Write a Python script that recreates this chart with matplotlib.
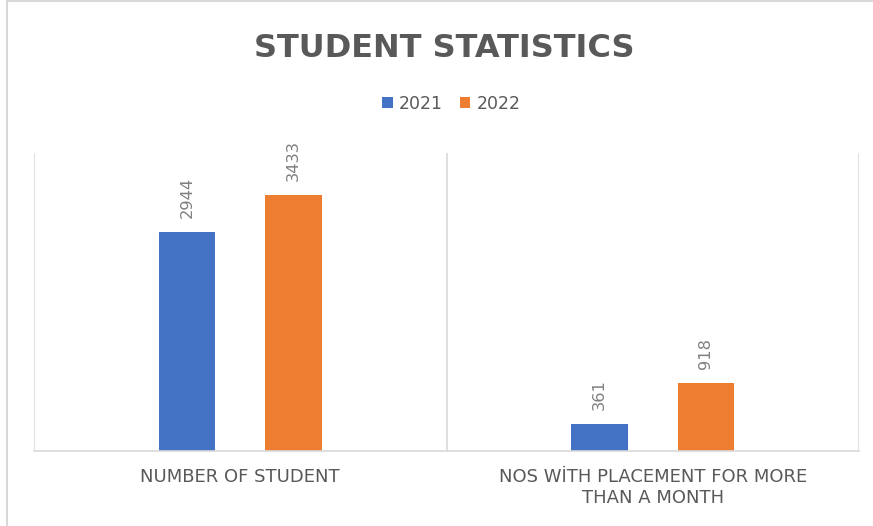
import matplotlib
matplotlib.use("Agg")
import matplotlib.pyplot as plt
from matplotlib.patches import Rectangle
import numpy as np

# chart data
categories = ["NUMBER OF STUDENT", "NOS WİTH PLACEMENT FOR MORE\nTHAN A MONTH"]
years = ["2021", "2022"]
values_2021 = [2944, 361]
values_2022 = [3433, 918]

colors = ["#4472C4", "#ED7D31"]
text_col = "#595959"
grid_col = "#D9D9D9"

plt.rcParams["font.family"] = ["DejaVu Sans"]

fig = plt.figure(figsize=(8.73, 5.26), dpi=100)
ax = fig.add_axes([34 / 873, 75 / 526, 825 / 873, 298 / 526])

x = np.arange(len(categories))
width = 0.136
offset = 0.129

bars1 = ax.bar(x - offset, values_2021, width, color=colors[0], label=years[0])
bars2 = ax.bar(x + offset, values_2022, width, color=colors[1], label=years[1])

# data labels, rotated like the original
for bars in (bars1, bars2):
    for b in bars:
        ax.annotate(str(int(b.get_height())),
                    xy=(b.get_x() + b.get_width() / 2, b.get_height()),
                    xytext=(0, 10), textcoords="offset points",
                    rotation=90, ha="center", va="bottom",
                    fontsize=11.7, color="#808080")

ax.set_xlim(-0.5, len(categories) - 0.5)
ax.set_ylim(0, 4000)
ax.set_yticks([])
ax.set_xticks(x)
ax.set_xticklabels(categories, fontsize=13, color=text_col, linespacing=1.25)
ax.tick_params(axis="x", length=0, pad=12)

for s in ("top", "left", "right"):
    ax.spines[s].set_visible(False)
ax.spines["bottom"].set_color(grid_col)
ax.spines["bottom"].set_linewidth(1.2)

# vertical category separators
for xv in np.arange(-0.5, len(categories), 1.0):
    ax.axvline(xv, color=grid_col, linewidth=1.2, zorder=0)

# title and legend
fig.text(0.509, 1 - 57 / 526, "STUDENT STATISTICS", ha="center", va="baseline",
         fontsize=23, fontweight="bold", color=text_col)

leg = fig.legend(handles=[bars1, bars2], labels=years, loc="center",
                 bbox_to_anchor=(0.517, 1 - 104 / 526), ncol=2, frameon=False,
                 fontsize=12.5, handlelength=0.6, handleheight=0.6,
                 handletextpad=0.35, columnspacing=1.0)
for t in leg.get_texts():
    t.set_color(text_col)

# chart area border (cut off at right and bottom in the original)
fig.patches.append(Rectangle((7 / 873, -0.1), 1.2, 1.1 - 1 / 526,
                             transform=fig.transFigure, fill=False,
                             edgecolor=grid_col, linewidth=1.5))

fig.savefig("out.png", dpi=100)
